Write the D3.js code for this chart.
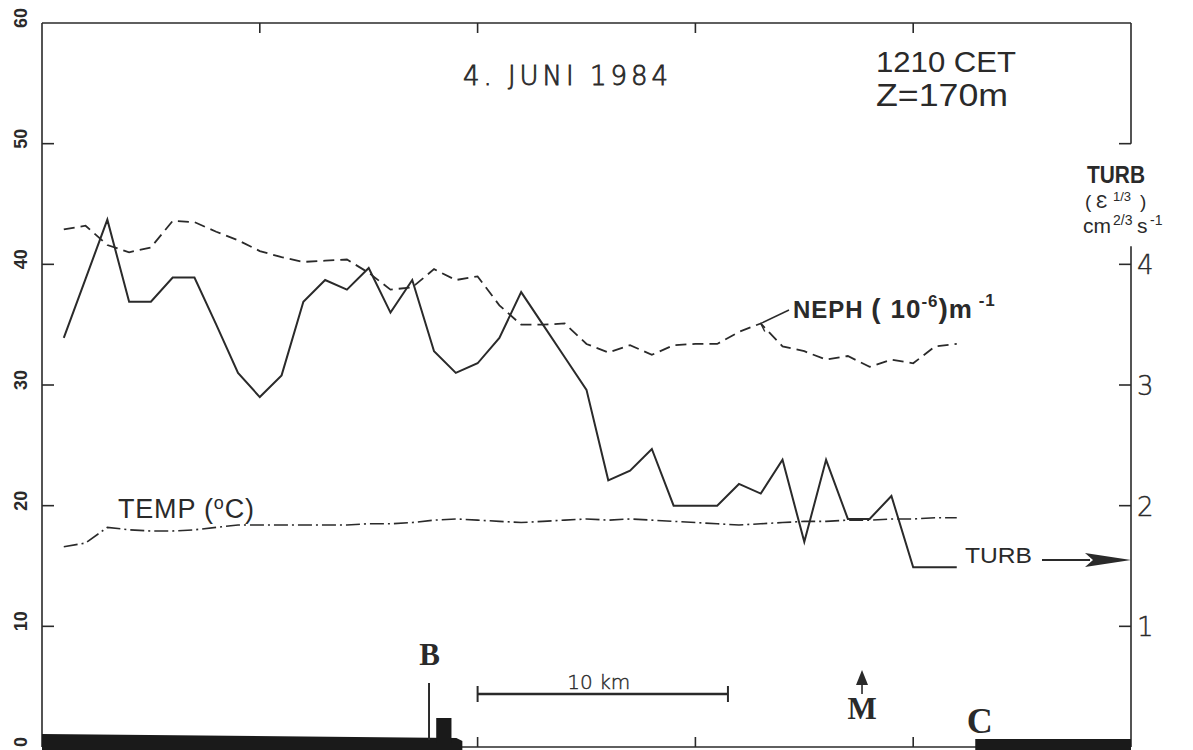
<!DOCTYPE html>
<html>
<head>
<meta charset="utf-8">
<script src="https://cdn.jsdelivr.net/npm/d3@7"></script>
<style>
  html, body { margin: 0; padding: 0; background: #fff; }
  svg { display: block; }
</style>
</head>
<body>
<svg id="chart" width="1193" height="750"></svg>
<script>
// Flight track samples (index along the leg)
const sampleIdx = [1,2,3,4,5,6,7,8,9,10,11,12,13,14,15,16,17,18,19,20,21,22,23,24,25,26,27,28,29,30,31,32,33,34,35,36,37,38,39,40,41,42];

// Turbulence, eps^(1/3) in cm^(2/3) s^-1 (right axis)
const turb = [3.39,3.88,4.37,3.69,3.69,3.89,3.89,3.50,3.10,2.90,3.08,3.69,3.87,3.79,3.97,3.60,3.87,3.28,3.10,3.18,3.39,3.77,3.50,3.23,2.96,2.21,2.29,2.47,2.00,2.00,2.00,2.18,2.10,2.38,1.70,2.38,1.89,1.89,2.08,1.49,1.49,1.49];

// Nephelometer scattering coefficient, 10^-6 m^-1 (left axis)
const neph = [42.9,43.2,41.6,41.0,41.4,43.6,43.5,42.7,42.0,41.1,40.6,40.2,40.3,40.4,39.3,37.9,38.1,39.6,38.7,39.0,36.6,35.0,35.0,35.1,33.4,32.7,33.3,32.5,33.3,33.4,33.4,34.4,35.1,33.2,32.8,32.1,32.4,31.5,32.1,31.8,33.2,33.4];

// Air temperature, deg C (left axis)
const temp = [16.6,16.9,18.2,18.0,17.9,17.9,18.0,18.2,18.4,18.4,18.4,18.4,18.4,18.4,18.5,18.5,18.6,18.8,18.9,18.8,18.7,18.6,18.7,18.8,18.9,18.8,18.9,18.8,18.7,18.6,18.5,18.4,18.5,18.6,18.7,18.7,18.8,18.8,18.9,18.9,19.0,19.0];

// Axis ticks
const leftTicks = [0,10,20,30,40,50,60];
const rightTicks = [1,2,3,4];
const rightTickMarks = [1,2,3,4,5];
const trackTicks = [10,20,30,40];

// Ground profile along the track (track-index units)
const landLeft = [0, 19.3];
const landRight = [42.85, 50];
const mastAt = 17.77;
const buildingSpan = [18.1, 18.8];
const siteMarks = [{name: "B", at: 17.8}, {name: "M", at: 37.65}, {name: "C", at: 43.05}];
const kmPerSample = 0.87;
const scaleBarKm = 10;
const scaleBarStart = 20;

const svg = d3.select("#chart");
const ink = "#2a2a2a";
const sans = "Liberation Sans, Arial, Helvetica, sans-serif";

const x = d3.scaleLinear().domain([0, 50]).range([42, 1131]);
const yL = d3.scaleLinear().domain([0, 60]).range([747, 23]);
const yR = d3.scaleLinear().domain([0, 6]).range([747, 23]);

// Frame
const g = svg.append("g").attr("stroke", ink).attr("fill", "none").attr("stroke-width", 1.6);
g.append("line").attr("x1", x(0)).attr("x2", x(50)).attr("y1", yL(60)).attr("y2", yL(60));
g.append("line").attr("x1", x(0)).attr("x2", x(50)).attr("y1", yL(0)).attr("y2", yL(0));
g.append("line").attr("x1", x(0)).attr("x2", x(0)).attr("y1", yL(60)).attr("y2", yL(0));
// right axis, broken where the unit label sits
g.append("line").attr("x1", x(50)).attr("x2", x(50)).attr("y1", yR(6)).attr("y2", yR(5));
g.append("line").attr("x1", x(50)).attr("x2", x(50)).attr("y1", yR(4.15)).attr("y2", yR(0));

// Left axis ticks and rotated labels
leftTicks.forEach(v => {
  if (v > 0 && v < 60) g.append("line").attr("x1", x(0)).attr("x2", x(0) + 12).attr("y1", yL(v)).attr("y2", yL(v));
  svg.append("text")
    .attr("transform", `translate(27,${yL(v) - 5}) rotate(-90)`)
    .attr("text-anchor", "middle")
    .attr("font-family", sans)
    .attr("font-weight", "bold")
    .attr("font-size", 18)
    .attr("fill", ink)
    .text(v);
});

// Right axis ticks and labels
rightTickMarks.forEach(v => {
  g.append("line").attr("x1", x(50) - 12).attr("x2", x(50)).attr("y1", yR(v)).attr("y2", yR(v));
});
rightTicks.forEach(v => {
  svg.append("text")
    .attr("x", x(50) + 6).attr("y", yR(v) + 10)
    .attr("font-family", "DejaVu Sans, sans-serif")
    .attr("font-weight", 200)
    .attr("font-size", 26)
    .attr("stroke", ink).attr("stroke-width", 0.4)
    .attr("fill", ink)
    .text(v);
});

// Top and bottom ticks along the track
trackTicks.forEach(v => {
  g.append("line").attr("x1", x(v)).attr("x2", x(v)).attr("y1", yL(60)).attr("y2", yL(60) + 10);
  g.append("line").attr("x1", x(v)).attr("x2", x(v)).attr("y1", yL(0)).attr("y2", yL(0) - 10);
});

// Series
const lineOf = (yScale) => d3.line().x((d, i) => x(sampleIdx[i])).y(d => yScale(d));

svg.append("path").datum(neph)
  .attr("d", lineOf(yL))
  .attr("fill", "none").attr("stroke", ink).attr("stroke-width", 1.8)
  .attr("stroke-dasharray", "11,6");

svg.append("path").datum(temp)
  .attr("d", lineOf(yL))
  .attr("fill", "none").attr("stroke", ink).attr("stroke-width", 1.6)
  .attr("stroke-dasharray", "14,4,2,4");

svg.append("path").datum(turb)
  .attr("d", lineOf(yR))
  .attr("fill", "none").attr("stroke", ink).attr("stroke-width", 2)
  .attr("stroke-linejoin", "miter");

// Header texts
svg.append("text").attr("x", 463).attr("y", 85)
  .attr("font-family", "DejaVu Sans, sans-serif").attr("font-weight", 200)
  .attr("font-size", 26).attr("fill", ink).attr("stroke", ink).attr("stroke-width", 0.8)
  .attr("textLength", 205).attr("lengthAdjust", "spacing")
  .text("4. JUNI 1984");

svg.append("text").attr("x", 876).attr("y", 72)
  .attr("font-family", sans).attr("font-size", 29).attr("fill", ink)
  .attr("textLength", 140).attr("lengthAdjust", "spacingAndGlyphs")
  .text("1210 CET");

svg.append("text").attr("x", 876).attr("y", 106)
  .attr("font-family", sans).attr("font-size", 31).attr("fill", ink)
  .attr("textLength", 132).attr("lengthAdjust", "spacingAndGlyphs")
  .text("Z=170m");

// Right axis unit label
svg.append("text").attr("x", 1087).attr("y", 183)
  .attr("font-family", sans).attr("font-weight", "bold").attr("font-size", 24).attr("fill", ink)
  .attr("textLength", 58).attr("lengthAdjust", "spacingAndGlyphs")
  .text("TURB");
const eps = svg.append("text").attr("y", 208)
  .attr("font-family", sans).attr("font-size", 19).attr("fill", ink);
eps.append("tspan").attr("x", 1085).text("(");
eps.append("tspan").attr("x", 1096).text("\u0190");
eps.append("tspan").attr("x", 1113).attr("dy", -7).attr("font-size", 13).text("1/3");
eps.append("tspan").attr("x", 1140).attr("dy", 7).text(")");
const unit = svg.append("text").attr("y", 233)
  .attr("font-family", sans).attr("font-size", 21).attr("fill", ink);
unit.append("tspan").attr("x", 1083).text("cm");
unit.append("tspan").attr("x", 1113).attr("dy", -8).attr("font-size", 14).text("2/3");
unit.append("tspan").attr("x", 1137).attr("dy", 8).text("s");
unit.append("tspan").attr("x", 1150).attr("dy", -8).attr("font-size", 14).text("-1");

// NEPH label with leader
const nephPeak = 32;
const px = x(sampleIdx[nephPeak]), py = yL(neph[nephPeak]);
svg.append("line").attr("x1", px).attr("y1", py)
  .attr("x2", 789).attr("y2", 310).attr("stroke", ink).attr("stroke-width", 1.4);
svg.append("line").attr("x1", px).attr("y1", py)
  .attr("x2", px + 4).attr("y2", py + 8).attr("stroke", ink).attr("stroke-width", 1.4);
const nl = svg.append("text").attr("x", 793).attr("y", 318)
  .attr("font-family", sans).attr("font-weight", "bold").attr("font-size", 24).attr("fill", ink)
  .attr("letter-spacing", 1);
nl.append("tspan").text("NEPH ");
nl.append("tspan").attr("font-size", 28).text("( ");
nl.append("tspan").attr("font-size", 26).text("10");
nl.append("tspan").attr("dy", -11).attr("font-size", 17).text("-6");
nl.append("tspan").attr("dy", 11).attr("font-size", 28).text(")");
nl.append("tspan").attr("font-size", 26).text("m");
nl.append("tspan").attr("dy", -12).attr("font-size", 17).text(" -1");

// TEMP label
const tl = svg.append("text").attr("x", 118).attr("y", 518)
  .attr("font-family", sans).attr("font-size", 27).attr("fill", ink).attr("letter-spacing", 0.8);
tl.append("tspan").text("TEMP (");
tl.append("tspan").attr("dy", -9).attr("font-size", 18).text("o");
tl.append("tspan").attr("dy", 9).text("C)");

// TURB label with arrow to the right axis
svg.append("text").attr("x", 965).attr("y", 563)
  .attr("font-family", sans).attr("font-size", 22).attr("fill", ink)
  .attr("textLength", 67).attr("lengthAdjust", "spacingAndGlyphs")
  .text("TURB");
const arrowY = 560;
svg.append("line").attr("x1", 1042).attr("x2", 1090).attr("y1", arrowY).attr("y2", arrowY)
  .attr("stroke", ink).attr("stroke-width", 2);
svg.append("path")
  .attr("d", `M${x(50)},${arrowY} L1085,${arrowY - 7} L1093,${arrowY} L1085,${arrowY + 7} Z`)
  .attr("fill", ink);

// Ground profile
svg.append("path")
  .attr("d", `M${x(landLeft[0])},734 L${x(landLeft[1]) - 6},738 L${x(landLeft[1])},741 L${x(landLeft[1])},750 L${x(landLeft[0])},750 Z`)
  .attr("fill", "#1a1a1a");
svg.append("rect").attr("x", x(landRight[0])).attr("y", 739)
  .attr("width", x(landRight[1]) - x(landRight[0])).attr("height", 11).attr("fill", "#1a1a1a");
svg.append("line").attr("x1", x(mastAt)).attr("x2", x(mastAt)).attr("y1", 683).attr("y2", 740)
  .attr("stroke", ink).attr("stroke-width", 2);
svg.append("rect").attr("x", x(buildingSpan[0])).attr("y", 718)
  .attr("width", x(buildingSpan[1]) - x(buildingSpan[0])).attr("height", 25).attr("fill", "#1a1a1a");

// Site letters
siteMarks.forEach(s => {
  svg.append("text")
    .attr("x", x(s.at)).attr("y", s.name === "B" ? 665 : (s.name === "M" ? 719 : 733))
    .attr("text-anchor", "middle")
    .attr("font-family", "Liberation Serif, Times New Roman, serif")
    .attr("font-weight", "bold")
    .attr("font-size", s.name === "C" ? 36 : 31)
    .attr("fill", ink)
    .text(s.name);
});
// mast symbol above M
const mX = x(siteMarks[1].at);
svg.append("path").attr("d", `M${mX},670 L${mX - 6},685 L${mX + 6},685 Z`).attr("fill", ink);
svg.append("line").attr("x1", mX).attr("x2", mX).attr("y1", 684).attr("y2", 694)
  .attr("stroke", ink).attr("stroke-width", 1.6);

// 10 km scale bar
const barX0 = x(scaleBarStart);
const barX1 = x(scaleBarStart + scaleBarKm / kmPerSample);
const barY = 694;
svg.append("line").attr("x1", barX0).attr("x2", barX1).attr("y1", barY).attr("y2", barY)
  .attr("stroke", ink).attr("stroke-width", 2.4);
[barX0, barX1].forEach(bx => svg.append("line").attr("x1", bx).attr("x2", bx)
  .attr("y1", barY - 8).attr("y2", barY + 8).attr("stroke", ink).attr("stroke-width", 2));
svg.append("text").attr("x", (barX0 + barX1) / 2 - 4).attr("y", 689)
  .attr("text-anchor", "middle").attr("font-family", "DejaVu Sans, sans-serif")
  .attr("font-weight", 200).attr("font-size", 20).attr("fill", ink).attr("stroke", ink).attr("stroke-width", 0.4)
  .text(`${scaleBarKm} km`);
</script>
</body>
</html>
